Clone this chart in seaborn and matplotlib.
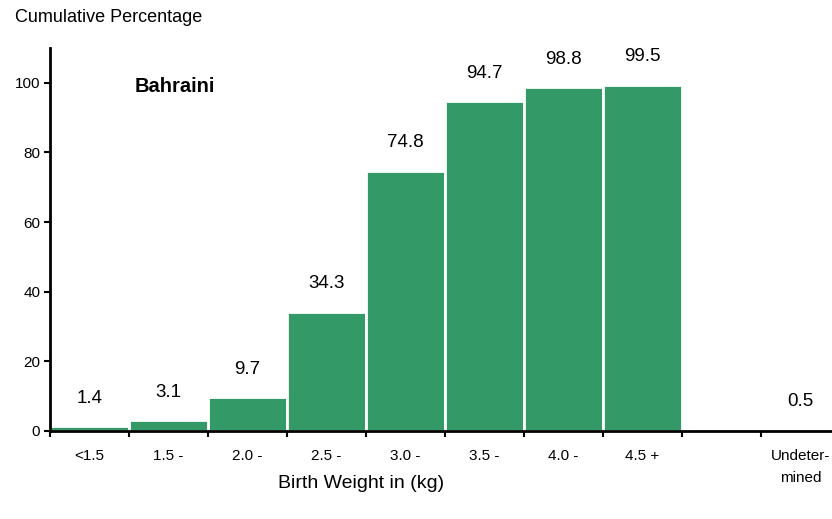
import matplotlib
matplotlib.use("Agg")
import matplotlib.pyplot as plt
import seaborn as sns
import pandas as pd
import numpy as np

# data
categories = ["<1.5", "1.5 -", "2.0 -", "2.5 -", "3.0 -", "3.5 -", "4.0 -", "4.5 +"]
cum_pct = [1.4, 3.1, 9.7, 34.3, 74.8, 94.7, 98.8, 99.5]
undetermined_label = "Undeter-\nmined"
undetermined_pct = 0.5

order = categories + [" ", undetermined_label]
df = pd.DataFrame({"Birth Weight": categories, "Cumulative": cum_pct})

sns.set_style("white")
plt.rcParams["font.family"] = ["Liberation Sans", "DejaVu Sans"]
for k in ["text.color", "axes.labelcolor", "xtick.color", "ytick.color"]:
    plt.rcParams[k] = "black"

fig = plt.figure(figsize=(8.32, 5.19), dpi=100)
ax = fig.add_axes([0.060, 0.1696, 0.940, 0.738])

sns.barplot(data=df, x="Birth Weight", y="Cumulative", order=order,
            color="#339966", saturation=1, width=1.0,
            edgecolor="white", linewidth=2, ax=ax)

ax.set_xlim(-0.5, 9.4)
ax.set_ylim(0, 110)
ax.set_yticks([0, 20, 40, 60, 80, 100])

# value labels above bars
for i, v in enumerate(cum_pct):
    ax.annotate(f"{v}", (i, v), xytext=(0, 20), textcoords="offset points",
                ha="center", va="center", fontsize=13.5)
ax.annotate(f"{undetermined_pct}", (order.index(undetermined_label), undetermined_pct),
            xytext=(0, 20), textcoords="offset points",
            ha="center", va="center", fontsize=13.5)

# tick marks between categories, labels at centers
ax.set_xticks(np.arange(len(order)))
ax.set_xticklabels(order, fontsize=11, linespacing=1.75)
ax.set_xticks(np.arange(len(order)) - 0.5, minor=True)
ax.tick_params(axis="x", which="major", bottom=True, length=0, pad=13)
ax.tick_params(axis="x", which="minor", bottom=True, length=4, width=1.5,
               color="black", direction="out")
ax.tick_params(axis="y", left=True, length=4, width=1.5, color="black",
               direction="out", labelsize=11, pad=3)

for s in ["top", "right"]:
    ax.spines[s].set_visible(False)
for s in ["left", "bottom"]:
    ax.spines[s].set_color("black")
    ax.spines[s].set_linewidth(2)

ax.set_xlabel("Birth Weight in (kg)", fontsize=14)
ax.xaxis.label.set_va("center")
ax.xaxis.set_label_coords((361 - 50) / 782, -0.136)
ax.set_ylabel("")
fig.text(15 / 832, 1 - 18 / 519, "Cumulative Percentage", fontsize=13,
         ha="left", va="center")
ax.text(135 / 832, 1 - 87 / 519, "Bahraini", transform=fig.transFigure,
        fontsize=14.5, fontweight="bold", ha="left", va="center")

fig.savefig("out.png", dpi=100)
